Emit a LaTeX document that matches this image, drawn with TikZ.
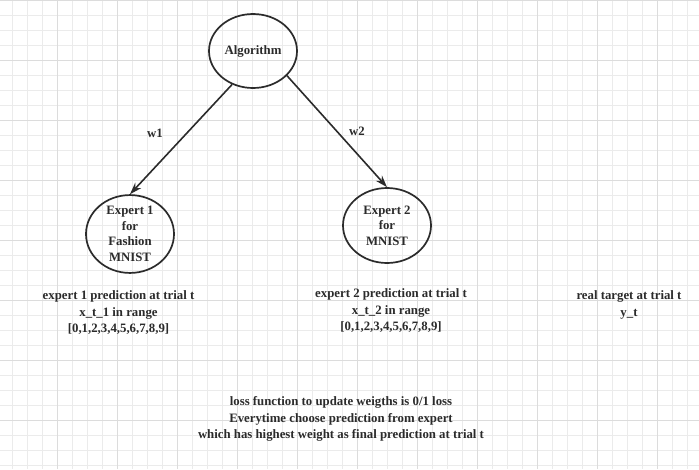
\documentclass[tikz,border=0pt]{standalone}
\usepackage{fontspec}
\setmainfont{Liberation Serif}
\usetikzlibrary{arrows.meta, shapes.geometric}
\definecolor{gridminor}{HTML}{EBEBEB}
\definecolor{gridmajor}{HTML}{DCDCDC}
\definecolor{inkgray}{HTML}{2B2B2B}
\tikzset{
  expertnode/.style={ellipse, draw=inkgray, line width=1.7pt, minimum width=88pt, minimum height=75pt, inner sep=0pt, align=center, text=inkgray, font=\fontsize{12.8}{15.5}\selectfont\bfseries},
  infotext/.style={align=center, text=inkgray, inner sep=0pt},
  weightlabel/.style={text=inkgray, inner sep=0pt}
}
\begin{document}
\begin{tikzpicture}[x=1pt, y=-1pt, font=\fontsize{12.8}{16.5}\selectfont\bfseries, line join=round, >={Stealth[length=12pt, width=8pt]}]
  \def\xmax{699}
  \def\ymax{469}
  \fill[white] (0,0) rectangle (\xmax,\ymax);
  \useasboundingbox (0,0) rectangle (\xmax,\ymax);
  % --- grid
  \foreach \x in {0,...,46} {
    \draw[gridminor, line width=0.8pt] ({12.7+15*\x},0) -- ({12.7+15*\x},\ymax);
  }
  \foreach \y in {0,...,31} {
    \draw[gridminor, line width=0.8pt] (0,{15*\y}) -- (\xmax,{15*\y});
  }
  \foreach \x in {0,...,11} {
    \draw[gridmajor, line width=0.8pt] ({-2.3+60*\x},0) -- ({-2.3+60*\x},\ymax);
  }
  \foreach \y in {0,...,7} {
    \draw[gridmajor, line width=0.8pt] (0,{60*\y}) -- (\xmax,{60*\y});
  }
  % --- nodes
  \node[expertnode, minimum height=74pt] (alg) at (253,51) {Algorithm};
  \node[expertnode, minimum height=76pt] (exp1) at (130,234) {Expert 1\\for\\Fashion\\MNIST};
  \node[expertnode] (exp2) at (387,225.5) {Expert 2\\for\\MNIST};
  % --- weights
  \draw[->, inkgray, line width=1.6pt] (alg.238) -- (exp1.north);
  \draw[->, inkgray, line width=1.6pt] (alg.324) -- (exp2.north);
  \node[weightlabel] (w1) at (155,133) {w1};
  \node[weightlabel] (w2) at (357,131) {w2};
  % --- texts
  \node[infotext] (pred1) at (118.5,313) {expert 1 prediction at trial t\\x\_t\_1 in range\\{[0,1,2,3,4,5,6,7,8,9]}};
  \node[infotext] (pred2) at (391,311) {expert 2 prediction at trial t\\x\_t\_2 in range\\{[0,1,2,3,4,5,6,7,8,9]}};
  \node[infotext] (target) at (629,305) {real target at trial t\\y\_t};
  \node[infotext] (loss) at (341,419) {loss function to update weigths is 0/1 loss\\Everytime choose prediction from expert\\which has highest weight as final prediction at trial t};
\end{tikzpicture}
\end{document}
